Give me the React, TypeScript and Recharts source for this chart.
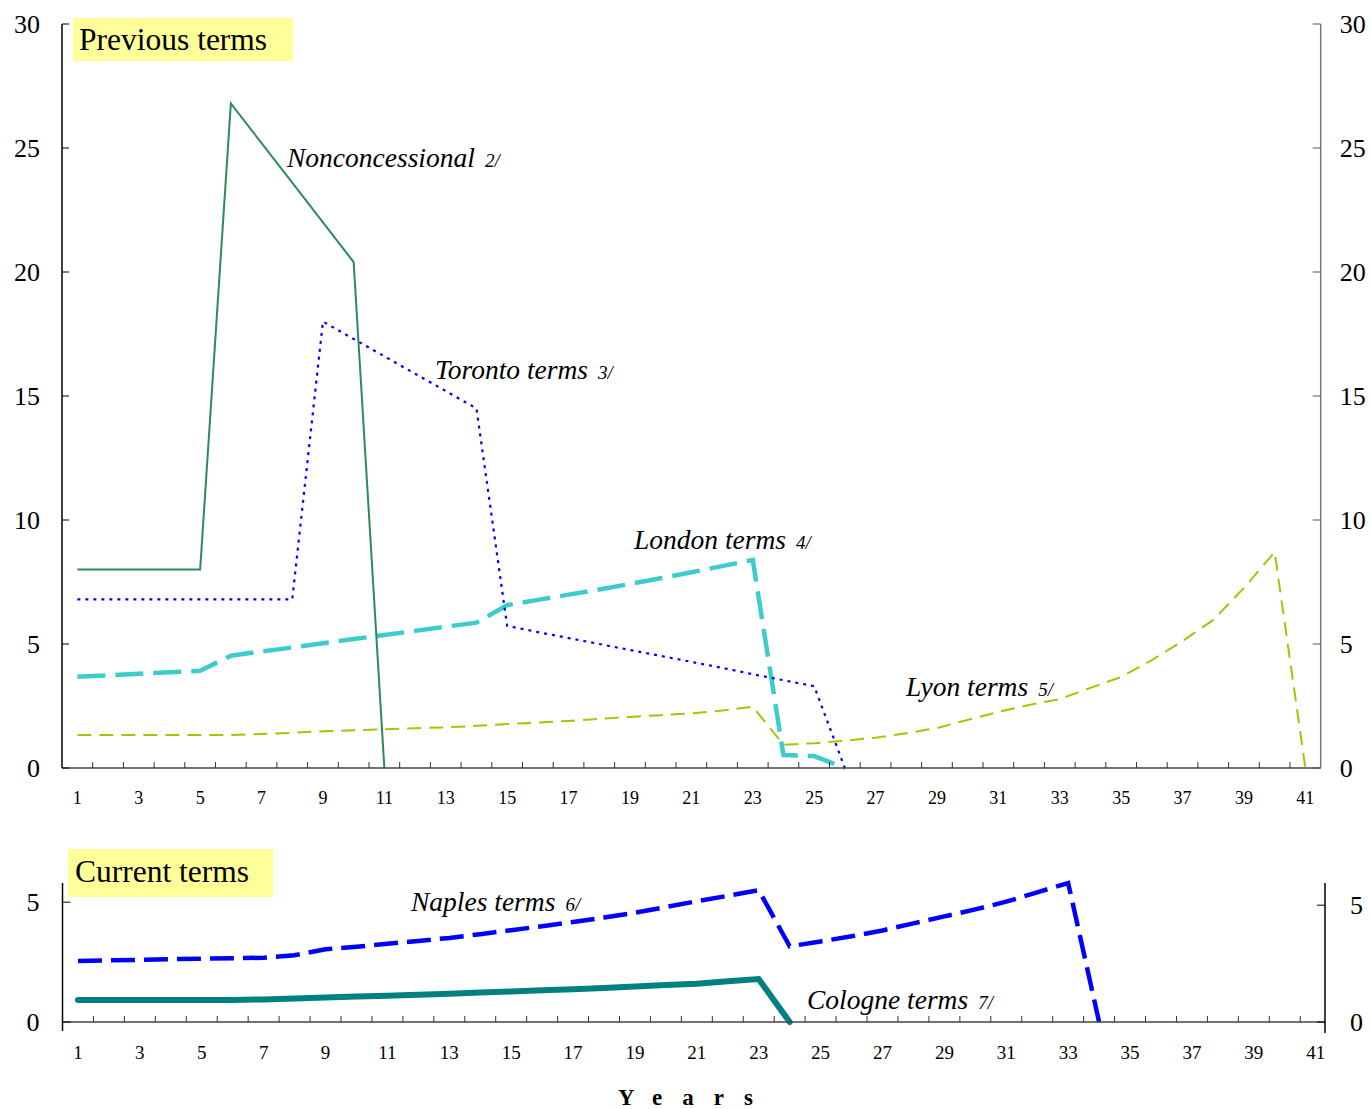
import React from 'react';
import { LineChart, Line, XAxis, YAxis } from 'recharts';

// ---------- data ----------
const years = [1, 2, 3, 4, 5, 6, 7, 8, 9, 10, 11, 12, 13, 14, 15, 16, 17, 18, 19, 20, 21, 22, 23, 24, 25, 26, 27, 28, 29, 30, 31, 32, 33, 34, 35, 36, 37, 38, 39, 40, 41];
const yearLabels = [1, 3, 5, 7, 9, 11, 13, 15, 17, 19, 21, 23, 25, 27, 29, 31, 33, 35, 37, 39, 41];

const N = null;
// Previous terms
const nonconcessional = [8, 8, 8, 8, 8, 26.8, 25.2, 23.6, 22.0, 20.4, 0, N, N, N, N, N, N, N, N, N, N, N, N, N, N, N, N, N, N, N, N, N, N, N, N, N, N, N, N, N, N];
const toronto = [6.8, 6.8, 6.8, 6.8, 6.8, 6.8, 6.8, 6.8, 18.0, 17.3, 16.6, 15.9, 15.2, 14.5, 5.73, 5.48, 5.24, 5.0, 4.76, 4.52, 4.28, 4.04, 3.78, 3.54, 3.3, 0, N, N, N, N, N, N, N, N, N, N, N, N, N, N, N];
const london = [3.68, 3.74, 3.8, 3.86, 3.92, 4.53, 4.7, 4.86, 5.03, 5.2, 5.36, 5.53, 5.7, 5.86, 6.57, 6.78, 6.99, 7.2, 7.42, 7.65, 7.89, 8.14, 8.39, 0.52, 0.48, 0, N, N, N, N, N, N, N, N, N, N, N, N, N, N, N];
const lyon = [1.33, 1.33, 1.33, 1.33, 1.33, 1.33, 1.37, 1.42, 1.48, 1.52, 1.56, 1.6, 1.64, 1.7, 1.77, 1.83, 1.9, 1.98, 2.06, 2.13, 2.2, 2.32, 2.47, 0.94, 1.0, 1.1, 1.22, 1.4, 1.61, 1.94, 2.26, 2.54, 2.78, 3.23, 3.67, 4.35, 5.12, 5.97, 7.26, 8.71, 0];
// Current terms
const naples = [2.61, 2.64, 2.66, 2.69, 2.71, 2.73, 2.75, 2.86, 3.11, 3.22, 3.35, 3.47, 3.6, 3.76, 3.93, 4.1, 4.28, 4.47, 4.68, 4.92, 5.17, 5.4, 5.64, 3.24, 3.45, 3.67, 3.92, 4.22, 4.52, 4.82, 5.15, 5.55, 5.95, 0, N, N, N, N, N, N, N];
const cologne = [0.92, 0.92, 0.92, 0.92, 0.92, 0.92, 0.94, 0.98, 1.02, 1.06, 1.1, 1.14, 1.18, 1.23, 1.27, 1.32, 1.37, 1.42, 1.48, 1.54, 1.6, 1.7, 1.79, 0, N, N, N, N, N, N, N, N, N, N, N, N, N, N, N, N, N];

const topYTicks = [0, 5, 10, 15, 20, 25, 30];
const bottomYTicks = [0, 5];

const topData = years.map((y, i) => ({
  year: y,
  nonconcessional: nonconcessional[i],
  toronto: toronto[i],
  london: london[i],
  lyon: lyon[i],
}));
const bottomData = years.map((y, i) => ({
  year: y,
  naples: naples[i],
  cologne: cologne[i],
}));

// tick positions: labels at odd years, small marks between years
const xTicks: number[] = [];
years.forEach((y, i) => {
  xTicks.push(y);
  if (i < years.length - 1) xTicks.push(y + 0.5);
});

const FONT = '"Liberation Serif", "Times New Roman", serif';

const makeXTick = (labelOffset: number, fontSize: number) => (props: any) => {
  const { x, y, payload } = props;
  const v = payload.value;
  if (Math.abs(v - Math.round(v)) > 0.01) {
    return <line x1={x} x2={x} y1={y} y2={y - 6} stroke="#333" strokeWidth={1} />;
  }
  if (yearLabels.includes(v)) {
    return (
      <text x={x} y={y + labelOffset} textAnchor="middle" fontSize={fontSize} fontFamily={FONT} fill="#000">
        {v}
      </text>
    );
  }
  return <g />;
};

const makeYTick = (side: 'left' | 'right', tickLen: number, gap: number, fontSize: number, tickColor: string, below: number) => (props: any) => {
  const { x, y, payload } = props;
  const v = payload.value;
  const dir = side === 'left' ? 1 : -1;
  return (
    <g>
      <line x1={x} x2={x + dir * tickLen} y1={y} y2={y} stroke={tickColor} strokeWidth={1} />
      {v === 0 && below > 0 ? <line x1={x} x2={x} y1={y} y2={y + below} stroke="#000" strokeWidth={1.5} /> : null}
      <text
        x={x - dir * gap}
        y={y}
        dy="0.35em"
        textAnchor={side === 'left' ? 'end' : 'start'}
        fontSize={fontSize}
        fontFamily={FONT}
        fill="#000"
      >
        {v}
      </text>
    </g>
  );
};

const TopXTick = makeXTick(36, 18);
const BottomXTick = makeXTick(37, 19);
const TopLeftYTick = makeYTick('left', 7, 22, 26, '#000', 0);
const TopRightYTick = makeYTick('right', 8, 19, 26, '#555', 0);
const BottomLeftYTick = makeYTick('left', 8, 23, 26, '#000', 9);
const BottomRightYTick = makeYTick('right', 8, 25, 26, '#000', 11);

export default function App() {
  return (
    <div style={{ position: 'absolute', left: 0, top: 0, width: 1371, height: 1109, background: '#fff', fontFamily: FONT }}>
      <div style={{ position: 'absolute', left: 0, top: 0 }}>
        <LineChart width={1371} height={808} data={topData} margin={{ top: 24, right: 0, left: 0, bottom: 0 }}>
          <XAxis
            dataKey="year"
            type="number"
            domain={[0.5, 41.5]}
            ticks={xTicks}
            interval={0}
            height={40}
            tickSize={0}
            tickMargin={0}
            tickLine={false}
            axisLine={{ stroke: '#444', strokeWidth: 1.5 }}
            tick={TopXTick}
          />
          <YAxis
            yAxisId="left"
            orientation="left"
            width={62}
            domain={[0, 30]}
            ticks={topYTicks}
            interval={0}
            tickSize={0}
            tickMargin={0}
            tickLine={false}
            axisLine={{ stroke: '#000', strokeWidth: 1.5 }}
            tick={TopLeftYTick}
          />
          <YAxis
            yAxisId="right"
            orientation="right"
            width={50.3}
            domain={[0, 30]}
            ticks={topYTicks}
            interval={0}
            tickSize={0}
            tickMargin={0}
            tickLine={false}
            axisLine={{ stroke: '#777', strokeWidth: 1.5 }}
            tick={TopRightYTick}
          />
          <Line yAxisId="right" dataKey="lyon" stroke="#99cc00" strokeWidth={2} strokeDasharray="14 8" dot={false} isAnimationActive={false} />
          <Line yAxisId="left" dataKey="london" stroke="#3ccccc" strokeWidth={4.5} strokeDasharray="28 10" dot={false} isAnimationActive={false} />
          <Line yAxisId="left" dataKey="toronto" stroke="#0000ff" strokeWidth={2.2} strokeDasharray="3 5" dot={false} isAnimationActive={false} />
          <Line yAxisId="left" dataKey="nonconcessional" stroke="#2e8b57" strokeWidth={2} dot={false} isAnimationActive={false} />
        </LineChart>
      </div>

      <div style={{ position: 'absolute', left: 0, top: 860 }}>
        <LineChart width={1371} height={222} data={bottomData} margin={{ top: 23, right: 0, left: 0, bottom: 0 }}>
          <XAxis
            dataKey="year"
            type="number"
            domain={[0.5, 41.3]}
            ticks={xTicks}
            interval={0}
            height={60}
            tickSize={0}
            tickMargin={0}
            tickLine={false}
            axisLine={{ stroke: '#444', strokeWidth: 1.5 }}
            tick={BottomXTick}
          />
          <YAxis
            yAxisId="left"
            orientation="left"
            width={62.5}
            domain={[0, 5.8]}
            ticks={bottomYTicks}
            interval={0}
            tickSize={0}
            tickMargin={0}
            tickLine={false}
            axisLine={{ stroke: '#000', strokeWidth: 1.5 }}
            tick={BottomLeftYTick}
          />
          <YAxis
            yAxisId="right"
            orientation="right"
            width={46}
            domain={[0, 5.8]}
            ticks={bottomYTicks}
            interval={0}
            tickSize={0}
            tickMargin={0}
            tickLine={false}
            axisLine={{ stroke: '#000', strokeWidth: 1.5 }}
            tick={BottomRightYTick}
          />
          <Line yAxisId="left" dataKey="cologne" stroke="#008080" strokeWidth={6} strokeLinecap="round" dot={false} isAnimationActive={false} />
          <Line yAxisId="right" dataKey="naples" stroke="#0000ff" strokeWidth={4.5} strokeDasharray="24 9" dot={false} isAnimationActive={false} />
        </LineChart>
      </div>

      <svg width={1371} height={1109} style={{ position: 'absolute', left: 0, top: 0, pointerEvents: 'none' }}>
        <rect x={73} y={18} width={220} height={43} fill="#ffff99" />
        <text x={79} y={50} fontSize={31.5} fontFamily={FONT} fill="#000">Previous terms</text>
        <rect x={68} y={849} width={205} height={48} fill="#ffff99" />
        <text x={75} y={882} fontSize={31.5} fontFamily={FONT} fill="#000">Current terms</text>

        <g fontFamily={FONT} fontStyle="italic" fill="#000">
          <text x={287} y={167} fontSize={27.5}>Nonconcessional<tspan fontSize={19} dx={10}>2/</tspan></text>
          <text x={435} y={379} fontSize={27.5}>Toronto terms<tspan fontSize={19} dx={10}>3/</tspan></text>
          <text x={634} y={549} fontSize={27.5}>London terms<tspan fontSize={19} dx={10}>4/</tspan></text>
          <text x={906} y={696} fontSize={27.5}>Lyon terms<tspan fontSize={19} dx={10}>5/</tspan></text>
          <text x={411} y={911} fontSize={27.5}>Naples terms<tspan fontSize={19} dx={10}>6/</tspan></text>
          <text x={807} y={1009} fontSize={27.5}>Cologne terms<tspan fontSize={19} dx={10}>7/</tspan></text>
        </g>
        <text x={618} y={1105} fontSize={23} fontWeight="bold" fontFamily={FONT} letterSpacing={20} fill="#000">Years</text>
      </svg>
    </div>
  );
}
